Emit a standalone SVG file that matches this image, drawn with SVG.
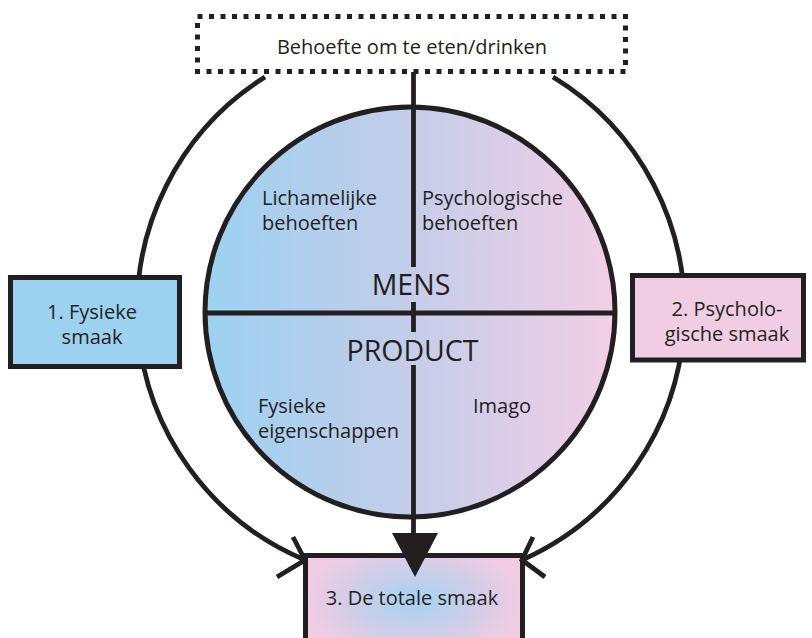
<svg xmlns="http://www.w3.org/2000/svg" width="812" height="638" viewBox="0 0 812 638">
<defs>
<linearGradient id="circGrad" x1="0" y1="0" x2="1" y2="0">
<stop offset="0" stop-color="#9dd1f1"/>
<stop offset="0.5" stop-color="#c4cde9"/>
<stop offset="1" stop-color="#f2cfe4"/>
</linearGradient>
<radialGradient id="boxGrad" cx="0.5" cy="0.45" r="0.5" gradientTransform="translate(0.5 0.45) scale(1 1.2) translate(-0.5 -0.45)">
<stop offset="0" stop-color="#a4d3f1"/>
<stop offset="0.6" stop-color="#d2cde7"/>
<stop offset="1" stop-color="#f1cde3"/>
</radialGradient>
</defs>
<style>
text{font-family:"Open Sans","Noto Sans","DejaVu Sans",sans-serif;fill:#231f20;font-size:20px}
.mid{text-anchor:middle}
.big{font-size:28.5px}
.ln{fill:none;stroke:#231f20;stroke-width:4.8}
.box{stroke:#231f20;stroke-width:5}
</style>
<g id="circle">
<circle cx="410" cy="312" r="205" fill="url(#circGrad)" stroke="#231f20" stroke-width="5"/>
<line x1="205" y1="313" x2="615" y2="313" class="ln"/>
<text x="262" y="205">Lichamelijke</text>
<text x="262" y="230">behoeften</text>
<text x="422" y="205">Psychologische</text>
<text x="422" y="230">behoeften</text>
<text x="411" y="295" class="mid big">MENS</text>
<text x="412.5" y="361" class="mid big">PRODUCT</text>
<text x="258" y="413">Fysieke</text>
<text x="258" y="438">eigenschappen</text>
<text x="473" y="413">Imago</text>
</g>
<g id="node-totaal">
<rect x="305.5" y="555.5" width="217" height="100" fill="url(#boxGrad)" class="box"/>
<text x="412" y="605" class="mid" font-size="20.5">3. De totale smaak</text>
</g>
<g id="connectors">
<path d="M265 77 A273 273 0 0 0 305 560" class="ln"/>
<path d="M553 77 A273 273 0 0 1 522 560" class="ln"/>
<path d="M293 537 L305 560 L277 577" class="ln"/>
<path d="M533 537 L522 560 L545 577" class="ln"/>
<path d="M413.5 72 V267 M413.5 302 V332 M413.5 365 V536" class="ln"/>
<polygon points="392,533 438,533 415,577" fill="#231f20"/>
</g>
<g id="node-fysiek">
<rect x="10.5" y="277.5" width="169" height="89" fill="#9dd1f0" class="box"/>
<text x="92" y="319" class="mid">1. Fysieke</text>
<text x="92" y="344" class="mid">smaak</text>
</g>
<g id="node-psych">
<rect x="632.5" y="275.5" width="171" height="84.5" fill="#f0cde3" class="box"/>
<text x="727" y="316" class="mid">2. Psycholo-</text>
<text x="727" y="341" class="mid">gische smaak</text>
</g>
<g id="node-behoefte">
<rect x="197.5" y="16.5" width="428" height="55" fill="#ffffff" stroke="#231f20" stroke-width="5" stroke-dasharray="5 6.5"/>
<text x="412" y="54" class="mid" font-size="20.5">Behoefte om te eten/drinken</text>
</g>
</svg>
